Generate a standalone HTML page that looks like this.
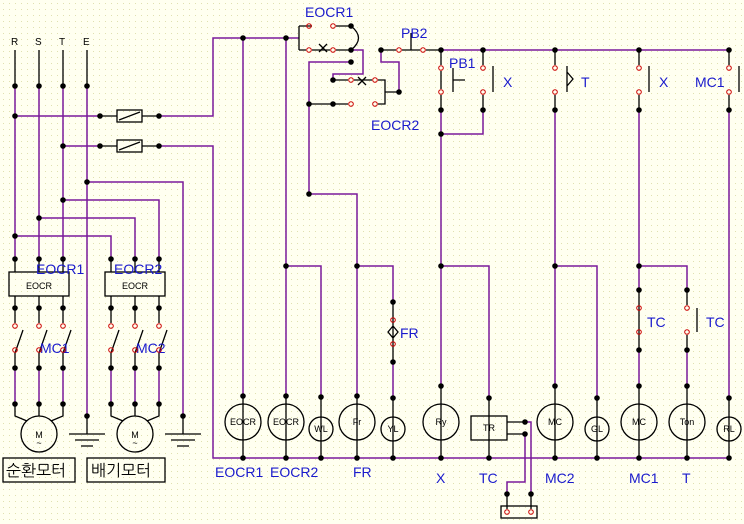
<!DOCTYPE html>
<html><head><meta charset="utf-8"><style>
html,body{margin:0;padding:0;width:744px;height:524px;overflow:hidden;background:#fffff0;}
svg{display:block;}
text{font-family:"Liberation Sans","NanumGothic",sans-serif;}
.p{stroke:#7a1a9a;stroke-width:1.5;fill:none}
.k{stroke:#000;stroke-width:1.3;fill:none}
.b{fill:#1a1acc;font-size:14px}
.s{fill:#000;font-size:9px;text-anchor:middle}
</style></head><body>
<svg width="744" height="524" viewBox="0 0 744 524">
<defs>
<pattern id="g" width="6" height="6" patternUnits="userSpaceOnUse"><rect x="3" y="3" width="1" height="1" fill="#e0e0b0"/></pattern>
</defs>
<rect width="744" height="524" fill="url(#g)"/>

<!-- power section -->
<g font-size="10" fill="#000"><text x="11" y="45">R</text><text x="35" y="45">S</text><text x="59" y="45">T</text><text x="83" y="45">E</text></g>
<path class="k" d="M15 50V86M39 50V86M63 50V86M87 50V86"/>
<path class="p" d="M15 86V259M39 86V259M63 86V259M87 86V416"/>
<path class="p" d="M15 116H100M63 146H100M159 116H213V38H299M159 146H213V458H729"/>
<path class="k" d="M100 116H117M142 116H159M100 146H117M142 146H159"/>
<rect x="117" y="110" width="25" height="12" class="k"/><path class="k" d="M119 120L140 112"/>
<rect x="117" y="140" width="25" height="12" class="k"/><path class="k" d="M119 150L140 142"/>
<path class="p" d="M87 182H183V416M63 200H159V259M39 218H135V259M15 236H111V259"/>
<!-- EOCR boxes -->
<path class="k" d="M15 259V272M39 259V272M63 259V272M111 259V272M135 259V272M159 259V272"/>
<rect x="9" y="272" width="60" height="24" class="k" fill="#fffff0"/><text x="39" y="289" class="s" font-size="10">EOCR</text>
<rect x="105" y="272" width="60" height="24" class="k" fill="#fffff0"/><text x="135" y="289" class="s" font-size="10">EOCR</text>
<text x="36" y="274" class="b">EOCR1</text><text x="114" y="274" class="b">EOCR2</text>
<path class="k" d="M15 296V323M39 296V323M63 296V323M111 296V323M135 296V323M159 296V323"/>
<path class="k" d="M15 353L23 330M39 353L47 330M63 353L71 330M111 353L119 330M135 353L143 330M159 353L167 330"/>
<path class="k" d="M15 353V368M39 353V368M63 353V368M111 353V368M135 353V368M159 353V368"/>
<text x="40" y="353" class="b">MC1</text><text x="136" y="353" class="b">MC2</text>
<path class="p" d="M15 368V404M39 368V404M63 368V404M111 368V404M135 368V404M159 368V404"/>
<path class="k" d="M15 404V416L27 421M39 404V416M63 404V416L51 421M111 404V416L123 421M135 404V416M159 404V416L147 421"/>
<circle cx="39" cy="434" r="18" class="k"/><circle cx="135" cy="434" r="18" class="k"/>
<text x="39" y="438" class="s">M</text><text x="135" y="438" class="s">M</text>
<text x="39" y="446" class="s">~</text><text x="135" y="446" class="s">~</text>
<path class="k" d="M87 416V434M69 434H105M75 440H99M81 446H93M183 416V434M165 434H201M171 440H195M177 446H189"/>
<rect x="3" y="458" width="72" height="24" class="k"/><rect x="87" y="458" width="78" height="24" class="k"/>
<text x="6" y="476" font-size="16" fill="#000" font-family="NanumGothic,sans-serif">순환모터</text>
<text x="91" y="476" font-size="16" fill="#000" font-family="NanumGothic,sans-serif">배기모터</text>

<!-- control top -->
<path class="p" d="M243 38V396M286 38V396"/>
<path class="k" d="M299 26V50M299 26H306M312 26H306M336 26H351M299 50H306M312 50H330M336 50H351M351 26Q366 38 351 50"/>
<path class="k" d="M319 44L327 52M327 44L319 52"/>
<text x="305" y="17" class="b">EOCR1</text>
<path class="p" d="M351 50H363V74H333V80M351 62H309V194H357V396M309 104"/>
<path class="k" d="M333 80H348M354 80H372M378 80H385V104H378M385 92H399M309 104H348"/>
<path class="k" d="M358 77L366 85M366 77L358 85"/>
<text x="371" y="130" class="b">EOCR2</text>
<path class="p" d="M399 92V62H381V50"/>
<path class="k" d="M381 50H396M402 50H420M426 50H441M411 33V50"/>
<text x="401" y="38" class="b">PB2</text>
<path class="p" d="M441 50H729"/>
<!-- rungs -->
<path class="k" d="M441 50V65M441 71V89M441 95V110M453 68V92M453 80H465M483 50V65M483 95V110M493 66V92M555 50V65M555 95V110M567 66V92M567 72L573 79L567 86M639 50V65M639 95V110M649 66V92M729 50V65M729 95V110M739 66V92"/>
<text x="449" y="68" class="b">PB1</text><text x="503" y="87" class="b">X</text><text x="581" y="87" class="b">T</text><text x="659" y="87" class="b">X</text><text x="695" y="87" class="b">MC1</text>
<path class="p" d="M441 110V386M483 110V134H441M555 110V386M639 110V290M729 110V398"/>
<path class="p" d="M286 266H321V397M357 266H393V302M441 266H489V398M555 266H597V398M639 266H687V290M393 362V398M639 350V386M687 350V386"/>
<path class="k" d="M393 302V320M393 344V362M393 320V344M388 332L393 326L398 332L393 338Z"/>
<text x="400" y="338" class="b">FR</text>
<path class="k" d="M639 290V350M687 290V305M687 335V350M697 308V332"/>
<text x="647" y="327" class="b">TC</text><text x="706" y="327" class="b">TC</text>
<!-- coils -->
<path class="k" d="M243 396V458M286 396V458M321 397V458M357 396V458M393 398V458M441 386V458M489 398V458M555 386V458M597 398V458M639 386V458M687 386V458M729 398V458"/>
<g class="k" fill="#fffff0">
<circle cx="243" cy="422" r="18"/><circle cx="286" cy="422" r="18"/><circle cx="321" cy="429" r="12"/><circle cx="357" cy="422" r="18"/><circle cx="393" cy="429" r="12"/><circle cx="441" cy="422" r="18"/><circle cx="555" cy="422" r="18"/><circle cx="597" cy="429" r="12"/><circle cx="639" cy="422" r="18"/><circle cx="687" cy="422" r="18"/><circle cx="729" cy="429" r="12"/>
<rect x="471" y="416" width="36" height="24"/>
</g>
<g class="s"><text x="243" y="425">EOCR</text><text x="286" y="425">EOCR</text><text x="321" y="432">WL</text><text x="357" y="425">Fr</text><text x="393" y="432">YL</text><text x="441" y="425">Ry</text><text x="489" y="431">TR</text><text x="555" y="425">MC</text><text x="597" y="432">GL</text><text x="639" y="425">MC</text><text x="687" y="425">Ton</text><text x="729" y="432">RL</text></g>
<path class="k" d="M507 422H525M507 434H525M507 494V509M531 494V509"/>
<path class="p" d="M525 422H531V494M525 434V482H507V494"/>
<rect x="501" y="506" width="36" height="12" class="k"/>
<g class="b"><text x="215" y="477">EOCR1</text><text x="270" y="477">EOCR2</text><text x="353" y="477">FR</text><text x="436" y="483">X</text><text x="479" y="483">TC</text><text x="545" y="483">MC2</text><text x="629" y="483">MC1</text><text x="682" y="483">T</text></g>

<!-- dots -->
<g fill="#000">
<circle cx="15" cy="86" r="2.8"/><circle cx="39" cy="86" r="2.8"/><circle cx="63" cy="86" r="2.8"/><circle cx="87" cy="86" r="2.8"/>
<circle cx="15" cy="116" r="2.8"/><circle cx="100" cy="116" r="2.8"/><circle cx="159" cy="116" r="2.8"/><circle cx="63" cy="146" r="2.8"/><circle cx="100" cy="146" r="2.8"/><circle cx="159" cy="146" r="2.8"/>
<circle cx="87" cy="182" r="2.8"/><circle cx="63" cy="200" r="2.8"/><circle cx="39" cy="218" r="2.8"/><circle cx="15" cy="236" r="2.8"/>
<circle cx="15" cy="259" r="2.8"/><circle cx="39" cy="259" r="2.8"/><circle cx="63" cy="259" r="2.8"/><circle cx="111" cy="259" r="2.8"/><circle cx="135" cy="259" r="2.8"/><circle cx="159" cy="259" r="2.8"/>
<circle cx="15" cy="308" r="2.8"/><circle cx="39" cy="308" r="2.8"/><circle cx="63" cy="308" r="2.8"/><circle cx="111" cy="308" r="2.8"/><circle cx="135" cy="308" r="2.8"/><circle cx="159" cy="308" r="2.8"/>
<circle cx="15" cy="368" r="2.8"/><circle cx="39" cy="368" r="2.8"/><circle cx="63" cy="368" r="2.8"/><circle cx="111" cy="368" r="2.8"/><circle cx="135" cy="368" r="2.8"/><circle cx="159" cy="368" r="2.8"/>
<circle cx="15" cy="404" r="2.8"/><circle cx="39" cy="404" r="2.8"/><circle cx="63" cy="404" r="2.8"/><circle cx="111" cy="404" r="2.8"/><circle cx="135" cy="404" r="2.8"/><circle cx="159" cy="404" r="2.8"/>
<circle cx="87" cy="416" r="2.8"/><circle cx="183" cy="416" r="2.8"/>
<circle cx="243" cy="38" r="2.8"/><circle cx="286" cy="38" r="2.8"/><circle cx="351" cy="26" r="2.8"/><circle cx="351" cy="50" r="2.8"/><circle cx="351" cy="62" r="2.8"/>
<circle cx="333" cy="80" r="2.8"/><circle cx="309" cy="104" r="2.8"/><circle cx="333" cy="104" r="2.8"/><circle cx="399" cy="92" r="2.8"/><circle cx="309" cy="194" r="2.8"/>
<circle cx="381" cy="50" r="2.8"/><circle cx="441" cy="50" r="2.8"/><circle cx="483" cy="50" r="2.8"/><circle cx="555" cy="50" r="2.8"/><circle cx="639" cy="50" r="2.8"/><circle cx="729" cy="50" r="2.8"/>
<circle cx="441" cy="110" r="2.8"/><circle cx="483" cy="110" r="2.8"/><circle cx="555" cy="110" r="2.8"/><circle cx="639" cy="110" r="2.8"/><circle cx="729" cy="110" r="2.8"/><circle cx="441" cy="134" r="2.8"/>
<circle cx="286" cy="266" r="2.8"/><circle cx="357" cy="266" r="2.8"/><circle cx="441" cy="266" r="2.8"/><circle cx="555" cy="266" r="2.8"/><circle cx="639" cy="266" r="2.8"/>
<circle cx="393" cy="302" r="2.8"/><circle cx="393" cy="362" r="2.8"/><circle cx="639" cy="290" r="2.8"/><circle cx="687" cy="290" r="2.8"/><circle cx="639" cy="350" r="2.8"/><circle cx="687" cy="350" r="2.8"/>
<circle cx="243" cy="396" r="2.8"/><circle cx="286" cy="396" r="2.8"/><circle cx="321" cy="397" r="2.8"/><circle cx="357" cy="396" r="2.8"/><circle cx="393" cy="398" r="2.8"/><circle cx="441" cy="386" r="2.8"/><circle cx="489" cy="398" r="2.8"/><circle cx="555" cy="386" r="2.8"/><circle cx="597" cy="398" r="2.8"/><circle cx="639" cy="386" r="2.8"/><circle cx="687" cy="386" r="2.8"/><circle cx="729" cy="398" r="2.8"/>
<circle cx="243" cy="458" r="2.8"/><circle cx="286" cy="458" r="2.8"/><circle cx="321" cy="458" r="2.8"/><circle cx="357" cy="458" r="2.8"/><circle cx="393" cy="458" r="2.8"/><circle cx="441" cy="458" r="2.8"/><circle cx="489" cy="458" r="2.8"/><circle cx="555" cy="458" r="2.8"/><circle cx="597" cy="458" r="2.8"/><circle cx="639" cy="458" r="2.8"/><circle cx="687" cy="458" r="2.8"/><circle cx="729" cy="458" r="2.8"/>
<circle cx="525" cy="422" r="2.8"/><circle cx="525" cy="434" r="2.8"/><circle cx="507" cy="494" r="2.8"/><circle cx="531" cy="494" r="2.8"/>
</g>
<!-- red terminals -->
<g fill="none" stroke="#c00" stroke-width="1">
<circle cx="15" cy="326" r="2.3"/><circle cx="39" cy="326" r="2.3"/><circle cx="63" cy="326" r="2.3"/><circle cx="111" cy="326" r="2.3"/><circle cx="135" cy="326" r="2.3"/><circle cx="159" cy="326" r="2.3"/>
<circle cx="15" cy="350" r="2.3"/><circle cx="39" cy="350" r="2.3"/><circle cx="63" cy="350" r="2.3"/><circle cx="111" cy="350" r="2.3"/><circle cx="135" cy="350" r="2.3"/><circle cx="159" cy="350" r="2.3"/>
<circle cx="309" cy="26" r="2.3"/><circle cx="333" cy="26" r="2.3"/><circle cx="309" cy="50" r="2.3"/><circle cx="333" cy="50" r="2.3"/>
<circle cx="351" cy="80" r="2.3"/><circle cx="375" cy="80" r="2.3"/><circle cx="351" cy="104" r="2.3"/><circle cx="375" cy="104" r="2.3"/>
<circle cx="399" cy="50" r="2.3"/><circle cx="423" cy="50" r="2.3"/>
<circle cx="441" cy="68" r="2.3"/><circle cx="441" cy="92" r="2.3"/><circle cx="483" cy="68" r="2.3"/><circle cx="483" cy="92" r="2.3"/><circle cx="555" cy="68" r="2.3"/><circle cx="555" cy="92" r="2.3"/><circle cx="639" cy="68" r="2.3"/><circle cx="639" cy="92" r="2.3"/><circle cx="729" cy="68" r="2.3"/><circle cx="729" cy="92" r="2.3"/>
<circle cx="393" cy="320" r="2.3"/><circle cx="393" cy="344" r="2.3"/><circle cx="639" cy="308" r="2.3"/><circle cx="639" cy="332" r="2.3"/><circle cx="687" cy="308" r="2.3"/><circle cx="687" cy="332" r="2.3"/>
<circle cx="507" cy="512" r="2.3"/><circle cx="531" cy="512" r="2.3"/>
</g>
</svg>
</body></html>
